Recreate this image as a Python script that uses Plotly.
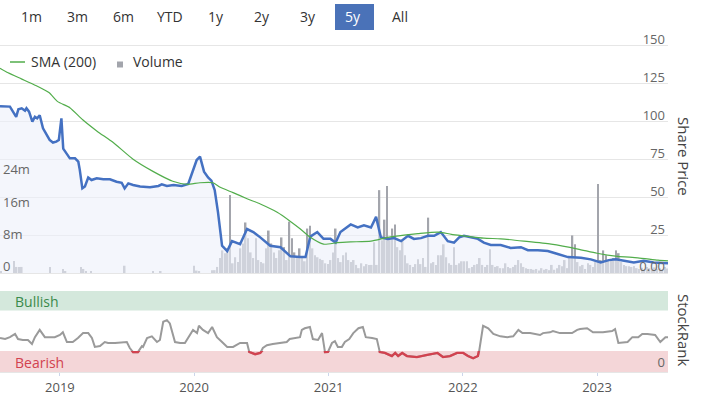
import plotly.graph_objects as go
import pandas as pd

# ---------------- data ----------------
price_dates = [
    "2018-07-22", "2018-08-18", "2018-09-04", "2018-09-10", "2018-09-19", "2018-09-28", "2018-10-02",
    "2018-10-09", "2018-10-18", "2018-10-25", "2018-10-31", "2018-11-07", "2018-11-16", "2018-11-25",
    "2018-12-04", "2018-12-13", "2018-12-22", "2018-12-29", "2019-01-05", "2019-01-10", "2019-01-19",
    "2019-01-28", "2019-02-11", "2019-02-20", "2019-02-24", "2019-03-03", "2019-03-10", "2019-03-19",
    "2019-03-28", "2019-04-11", "2019-04-29", "2019-05-17", "2019-06-04", "2019-06-18", "2019-06-26",
    "2019-07-06", "2019-07-19", "2019-08-07", "2019-09-03", "2019-09-26", "2019-10-05", "2019-10-19",
    "2019-11-06", "2019-11-28", "2019-12-16", "2019-12-25", "2020-01-08", "2020-01-17", "2020-01-28",
    "2020-02-08", "2020-02-17", "2020-02-26",
    "2020-03-06", "2020-03-17", "2020-03-31", "2020-04-13", "2020-05-05",
    "2020-05-24", "2020-06-10", "2020-06-29", "2020-07-26", "2020-08-23", "2020-09-19", "2020-10-16",
    "2020-10-30", "2020-11-12", "2020-12-01", "2020-12-18", "2021-01-06", "2021-01-20", "2021-02-02",
    "2021-03-02", "2021-03-21", "2021-04-07", "2021-04-26", "2021-05-10", "2021-05-23", "2021-06-11",
    "2021-06-28", "2021-07-17", "2021-08-05", "2021-08-21", "2021-09-09", "2021-09-28", "2021-10-15",
    "2021-11-02", "2021-11-21", "2021-12-08", "2021-12-22", "2022-01-04", "2022-01-23", "2022-02-11",
    "2022-02-27", "2022-03-18", "2022-04-14", "2022-05-11", "2022-06-08", "2022-06-27", "2022-07-24",
    "2022-08-20", "2022-09-16", "2022-10-14", "2022-11-18", "2022-12-15", "2023-01-11", "2023-02-02",
    "2023-02-21", "2023-03-15", "2023-04-11", "2023-05-08", "2023-06-04", "2023-07-13",
]
price_values = [
    110, 109.7, 103, 108, 108.6, 107, 108.6,
    106.4, 99.8, 103, 102, 104, 95.4, 92,
    87.7, 86, 86.6, 87.7, 102, 82, 79,
    75.6, 75.6, 73.4, 68, 55.8, 57, 63,
    61.3, 62.4, 61.8, 61.8, 60.2, 59.5, 55.8,
    59.1, 58, 57, 56.5, 57.4, 58.5, 57.4,
    58, 57.4, 58.7, 64.6, 74.5, 76.7, 66.8,
    63, 60.9, 54.7,
    40, 18, 14.5, 21, 19,
    29, 27, 23.5, 18, 17, 11, 10.5,
    10.5, 24, 27, 22.5, 22.5, 20, 27,
    32, 30, 31.5, 30, 37, 23.5, 22.5,
    23, 21, 24.5, 22.5, 23, 24.5, 24.5,
    27, 21, 20, 23.5, 24.5, 23.5, 22.5,
    20, 18.5, 18.5, 16.5, 17, 15, 15,
    14.5, 12.5, 10.5, 10, 9, 7, 8.5,
    9, 8, 7, 8, 7, 6.5,
]

sma_dates = [
    "2018-07-22", "2018-08-13", "2018-09-18", "2018-10-24", "2018-12-02", "2018-12-26", "2019-01-28",
    "2019-03-04", "2019-04-12", "2019-05-26", "2019-07-19", "2019-09-11", "2019-11-04", "2019-12-12",
    "2020-01-17", "2020-02-21", "2020-03-12", "2020-04-16", "2020-05-24", "2020-06-29", "2020-08-14",
    "2020-09-19", "2020-10-16", "2020-11-12", "2020-12-18", "2021-01-25", "2021-03-02", "2021-04-26",
    "2021-06-11", "2021-07-25", "2021-09-01", "2021-10-26", "2021-12-01", "2022-01-04", "2022-02-27",
    "2022-04-14", "2022-06-16", "2022-08-29", "2022-11-10", "2023-01-01", "2023-02-26", "2023-04-22",
    "2023-06-16", "2023-07-13",
]
sma_values = [
    135, 132, 128, 124, 119, 113, 109,
    101, 93.5, 86, 75, 67, 60.5, 58.5,
    59.5, 59.5, 56.5, 53, 49, 45.5, 40,
    34, 29, 23.5, 19, 20, 20.5, 21,
    23.5, 25, 26, 27, 25.5, 24.5, 23,
    22.5, 21, 19, 15.8, 13, 11, 10,
    8.5, 8,
]

# weekly volume (millions of shares), first week starting VOLUME_START
VOLUME_START = "2018-07-25"
volume_millions = [
    0.5, 0, 0, 0, 0, 3.0, 1.5, 1.5, 1.5, 0,
    0, 0, 0, 0, 0, 0, 0, 0, 0, 1.5,
    0, 0, 0, 0, 1.0, 0.5, 0, 0, 0, 0,
    0, 1.5, 1.0, 0.4, 0, 0.3, 0, 0, 0, 0,
    0, 0, 0, 0, 0, 0, 0, 0, 1.8, 0,
    0, 0, 0, 0, 0, 0, 0, 0, 0, 0.5,
    0, 0, 0.4, 0, 0, 0, 0, 0, 0, 0,
    0, 0, 0, 0, 0, 1.8, 0.6, 0.5, 0, 0,
    0, 0, 0.7, 0.7, 1.5, 3.7, 5.6, 4.9, 6.1, 19.3,
    2.4, 3.9, 2.7, 6.1, 7.3, 12.5, 8.6, 5.1, 3.7, 8.6,
    3.2, 2.7, 2.4, 6.1, 10.5, 7.3, 5.1, 3.7, 5.6, 8.8,
    6.4, 3.2, 12.7, 8.6, 5.1, 3.9, 6.1, 3.7, 2.9, 11.0,
    11.7, 6.1, 4.4, 3.9, 3.5, 3.2, 2.4, 2.2, 3.2, 5.1,
    11.0, 3.7, 2.7, 4.4, 5.1, 3.2, 2.7, 3.2, 2.0, 1.2,
    2.4, 1.7, 2.2, 2.0, 2.0, 7.6, 2.0, 20.5, 8.1, 13.2,
    21.5, 8.6, 11.0, 12.0, 6.4, 5.6, 8.1, 4.4, 2.4, 2.0,
    1.5, 2.2, 3.4, 2.2, 3.7, 1.5, 13.7, 2.4, 2.7, 2.0,
    4.4, 4.4, 7.1, 3.9, 2.4, 2.0, 6.4, 2.0, 2.4, 2.9,
    2.9, 2.9, 1.2, 1.5, 2.0, 2.2, 3.7, 2.0, 1.5, 2.0,
    5.9, 2.0, 1.5, 1.7, 1.2, 1.2, 2.4, 1.5, 1.2, 1.5,
    2.0, 3.2, 2.4, 1.5, 1.2, 1.0, 1.0, 0.8, 1.0, 0.6,
    1.2, 0.8, 1.0, 0.7, 2.0, 0.8, 1.2, 2.0, 1.7, 3.2,
    1.2, 3.7, 9.3, 7.1, 2.7, 1.7, 2.0, 1.0, 2.4, 2.0,
    1.5, 2.7, 22.0, 3.2, 5.6, 4.4, 3.2, 3.2, 3.7, 5.6,
    4.9, 2.7, 2.0, 1.7, 1.7, 1.5, 1.7, 1.2, 1.0, 1.3,
    0.9, 1.5, 1.2, 0.8, 1.4, 1.0, 1.2, 0.9, 1.5, 1.1,
]

rank_dates = [
    "2018-07-22", "2018-08-05", "2018-08-18", "2018-09-01", "2018-09-09", "2018-09-22", "2018-10-06",
    "2018-10-17", "2018-10-25", "2018-11-07", "2018-11-21", "2018-12-04", "2018-12-18", "2019-01-01",
    "2019-01-09", "2019-01-20", "2019-02-05", "2019-02-19", "2019-03-05", "2019-03-19", "2019-03-29",
    "2019-04-06", "2019-04-20", "2019-05-03", "2019-05-12", "2019-05-31", "2019-06-19", "2019-07-02",
    "2019-07-10", "2019-07-19", "2019-08-01", "2019-08-12", "2019-08-15", "2019-08-26", "2019-09-08",
    "2019-09-22", "2019-09-30", "2019-10-09", "2019-10-19", "2019-10-27", "2019-11-10", "2019-11-24",
    "2019-12-07", "2019-12-21", "2019-12-29", "2020-01-09", "2020-01-14", "2020-01-25", "2020-02-08",
    "2020-02-19", "2020-03-03", "2020-03-17", "2020-03-31", "2020-04-16", "2020-05-05", "2020-05-24",
    "2020-05-30", "2020-06-15", "2020-06-29", "2020-07-06", "2020-07-17", "2020-08-02", "2020-08-21",
    "2020-09-09", "2020-09-17", "2020-10-01", "2020-10-15", "2020-10-20", "2020-10-28", "2020-11-11",
    "2020-11-19", "2020-12-03", "2020-12-14", "2020-12-22", "2020-12-30", "2021-01-10", "2021-01-18",
    "2021-01-26", "2021-02-06", "2021-02-14", "2021-02-26", "2021-03-09", "2021-03-23", "2021-04-04",
    "2021-04-12", "2021-04-29", "2021-05-12", "2021-05-20", "2021-06-03", "2021-06-22", "2021-07-01",
    "2021-07-09", "2021-07-20", "2021-08-02", "2021-08-29", "2021-09-26", "2021-10-24", "2021-11-08",
    "2021-11-27", "2021-12-16", "2022-01-02", "2022-01-15", "2022-01-29", "2022-02-11", "2022-02-14",
    "2022-02-25", "2022-03-11", "2022-03-25", "2022-04-13", "2022-05-02", "2022-05-18", "2022-06-01",
    "2022-06-12", "2022-07-03", "2022-07-30", "2022-08-07", "2022-08-26", "2022-09-03", "2022-09-22",
    "2022-10-12", "2022-10-25", "2022-11-08", "2022-11-16", "2022-12-05", "2022-12-21", "2023-01-17",
    "2023-02-11", "2023-02-19", "2023-02-28", "2023-03-25", "2023-04-07", "2023-04-23", "2023-05-04",
    "2023-05-18", "2023-06-08", "2023-06-22", "2023-07-06", "2023-07-13",
]
rank_values = [
    42, 40.7, 43, 47, 40.7, 39.5, 39.5,
    34.6, 43, 52, 43, 43, 43, 45.7,
    49, 37, 37, 42, 48, 48, 42,
    31, 32, 37, 35.8, 35.8, 37, 37,
    29.6, 24.5, 24.5, 32, 31, 42, 44,
    37, 39.5, 62, 64, 60, 37, 35.8,
    35.8, 45.7, 52, 48, 57, 52, 48,
    55.6, 43, 37, 31, 31, 35.8, 35.8,
    24.7, 22, 23.5, 29.6, 33, 34.6, 35.8,
    37, 40.7, 42, 43, 52, 54, 55.6,
    40.7, 39.5, 48, 24.5, 24.7, 35.8, 38,
    31, 31, 37, 40.7, 48, 54, 55.6,
    43, 42, 40.7, 24.7, 23.5, 19.7, 23.5,
    19.7, 23.5, 19.7, 18.5, 21, 23.5, 18.5,
    19.7, 23.5, 23.5, 19.7, 17, 19.7, 24.7,
    57, 54, 47, 44, 43, 44, 52,
    48, 48, 45.7, 48, 49, 50.6, 48,
    48, 48, 52, 53, 54, 49, 49,
    50.6, 53, 35.8, 37, 43, 43, 47,
    47, 45.7, 37, 43, 43,
]

range_buttons = ["1m", "3m", "6m", "YTD", "1y", "2y", "3y", "5y", "All"]
selected_button = "5y"
price_ticks = [0, 25, 50, 75, 100, 125, 150]
price_ticktext = ["0.00", "25", "50", "75", "100", "125", "150"]
volume_ticks = [0, 8, 16, 24]
volume_ticktext = ["0", "8m", "16m", "24m"]
year_ticks = ["2019-01-01", "2020-01-01", "2021-01-01", "2022-01-01", "2023-01-01"]
year_labels = ["2019", "2020", "2021", "2022", "2023"]
BEARISH_MAX = 26
BULLISH_MIN = 76

# ---------------- layout helpers ----------------
W, H = 704, 395
FONT = "Open Sans, Noto Sans, sans-serif"


def px(x):
    return x / W


def py(y):
    return 1 - y / H


BLUE = "#4471c2"
GREEN = "#52ad4b"
BAR = "#a3a5ac"
GRID = "#e6e6e6"

fig = go.Figure()

vol_dates = pd.date_range(VOLUME_START, periods=len(volume_millions), freq="7D")
fig.add_trace(go.Bar(
    x=vol_dates, y=volume_millions, xaxis="x", yaxis="y",
    marker=dict(color=BAR, line=dict(width=0)), width=4.6 * 86400000,
    hoverinfo="skip",
))
fig.add_trace(go.Scatter(
    x=price_dates, y=price_values, xaxis="x", yaxis="y2", mode="lines",
    line=dict(color=BLUE, width=2.5), fill="tozeroy",
    fillcolor="rgba(236,240,250,0.6)",
))
fig.add_trace(go.Scatter(
    x=sma_dates, y=sma_values, xaxis="x", yaxis="y2", mode="lines",
    line=dict(color=GREEN, width=1.2, shape="spline", smoothing=0.6),
))
fig.add_trace(go.Scatter(
    x=rank_dates, y=rank_values, xaxis="x", yaxis="y3", mode="lines",
    line=dict(color="#9a9a9a", width=2),
))
# same series, clipped to the bearish zone, drawn red
fig.add_trace(go.Scatter(
    x=rank_dates, y=rank_values, xaxis="x", yaxis="y4", mode="lines",
    line=dict(color="#d2424f", width=2.3),
))

# main panel: price 0 at y=273px, 150 at y=45.5px; area padded above/below so edge labels fit
ZERO_PX = 273
PRICE_PX_PER_UNIT = (ZERO_PX - 45.5) / 150
VOL_PX_PER_M = (ZERO_PX - 176) / 24
MAIN_TOP = 18
MAIN_BOTTOM = 279
main_dom = [py(MAIN_BOTTOM), py(MAIN_TOP)]
price_range = [-(MAIN_BOTTOM - ZERO_PX) / PRICE_PX_PER_UNIT, (ZERO_PX - MAIN_TOP) / PRICE_PX_PER_UNIT]
vol_range = [-(MAIN_BOTTOM - ZERO_PX) / VOL_PX_PER_M, (ZERO_PX - MAIN_TOP) / VOL_PX_PER_M]
rank_dom = [py(372), py(291)]
rank_px_per_unit = (372 - 291) / 100
bear_dom = [py(372), py(372 - BEARISH_MAX * rank_px_per_unit)]

axis_font = dict(family=FONT, size=13, color="#666666")
LABEL_SHIFT = 3

fig.update_layout(
    width=W, height=H, margin=dict(l=0, r=0, t=0, b=0),
    template="none", showlegend=False,
    paper_bgcolor="white", plot_bgcolor="rgba(0,0,0,0)",
    font=dict(family=FONT, size=13, color="#333333"),
    xaxis=dict(
        domain=[0, px(668)], anchor="y3",
        range=["2018-07-22", "2023-07-13"],
        tickvals=year_ticks, ticktext=year_labels,
        ticks="outside", ticklen=3, tickcolor="#ccd6eb",
        showline=True, linecolor="#e6e6e6", linewidth=1,
        showgrid=False, zeroline=False,
        tickfont=dict(family=FONT, size=13, color="#555555"),
    ),
    yaxis=dict(
        domain=main_dom, anchor="x", side="left",
        range=vol_range, tickvals=volume_ticks, ticktext=volume_ticktext,
        ticklabelposition="inside top", ticks="", ticklabelshift=LABEL_SHIFT,
        showgrid=False, zeroline=False, showline=False,
        tickfont=axis_font,
    ),
    yaxis2=dict(
        overlaying="y", anchor="x", side="right",
        range=price_range, tickvals=price_ticks, ticktext=price_ticktext,
        ticklabelposition="inside top", ticks="", ticklabelshift=LABEL_SHIFT,
        showgrid=True, gridcolor=GRID, gridwidth=1,
        zeroline=False, showline=False,
        tickfont=axis_font,
    ),
    yaxis3=dict(
        domain=rank_dom, anchor="x", side="right",
        range=[0, 100], tickvals=[0], ticktext=["0"],
        ticklabelposition="inside top", ticks="",
        showgrid=False, zeroline=False, showline=False,
        tickfont=axis_font,
    ),
    yaxis4=dict(
        domain=bear_dom, anchor="x", side="right",
        range=[0, BEARISH_MAX], visible=False,
    ),
)

shapes = [
    dict(type="rect", xref="x domain", yref="y3", x0=0, x1=1, y0=BULLISH_MIN, y1=100,
         fillcolor="#d4e8dc", line=dict(width=0), layer="below"),
    dict(type="rect", xref="x domain", yref="y3", x0=0, x1=1, y0=0, y1=BEARISH_MAX,
         fillcolor="#f4d6d8", line=dict(width=0), layer="below"),
    # selected range button background
    dict(type="rect", xref="paper", yref="paper", x0=px(335), x1=px(374), y0=py(30), y1=py(4),
         fillcolor="#4a72b8", line=dict(width=0), layer="below"),
    # legend symbols
    dict(type="line", xref="paper", yref="paper", x0=px(10), x1=px(25), y0=py(62), y1=py(62),
         line=dict(color=GREEN, width=1.5)),
    dict(type="rect", xref="paper", yref="paper", x0=px(117), x1=px(123), y0=py(67.5), y1=py(61.5),
         fillcolor=BAR, line=dict(width=0)),
]

annotations = []
for i, label in enumerate(range_buttons):
    sel = label == selected_button
    annotations.append(dict(
        text=label, xref="paper", yref="paper", x=px(31.5 + 46 * i), y=py(16.5),
        xanchor="center", yanchor="middle", showarrow=False,
        font=dict(family=FONT, size=14, color="white" if sel else "#333333"),
    ))
annotations += [
    dict(text="SMA (200)", xref="paper", yref="paper", x=px(29), y=py(62),
         xanchor="left", yanchor="middle", showarrow=False,
         font=dict(family=FONT, size=14, color="#333333")),
    dict(text="Volume", xref="paper", yref="paper", x=px(131), y=py(62),
         xanchor="left", yanchor="middle", showarrow=False,
         font=dict(family=FONT, size=14, color="#333333")),
    dict(text="Bullish", xref="paper", yref="paper", x=px(13), y=py(301),
         xanchor="left", yanchor="middle", showarrow=False,
         font=dict(family=FONT, size=14, color="#3a8a4b")),
    dict(text="Bearish", xref="paper", yref="paper", x=px(13), y=py(362),
         xanchor="left", yanchor="middle", showarrow=False,
         font=dict(family=FONT, size=14, color="#d2424f")),
    dict(text="Share Price", xref="paper", yref="paper", x=px(684), y=py(156),
         xanchor="center", yanchor="middle", showarrow=False, textangle=90,
         font=dict(family=FONT, size=15, color="#444444")),
    dict(text="StockRank", xref="paper", yref="paper", x=px(684), y=py(330),
         xanchor="center", yanchor="middle", showarrow=False, textangle=90,
         font=dict(family=FONT, size=15, color="#444444")),
]

fig.update_layout(shapes=shapes, annotations=annotations)
fig.write_html(
    "out.html",
    config={"displayModeBar": False},
    post_script="document.body.style.margin='0';document.body.style.overflow='hidden';",
)
